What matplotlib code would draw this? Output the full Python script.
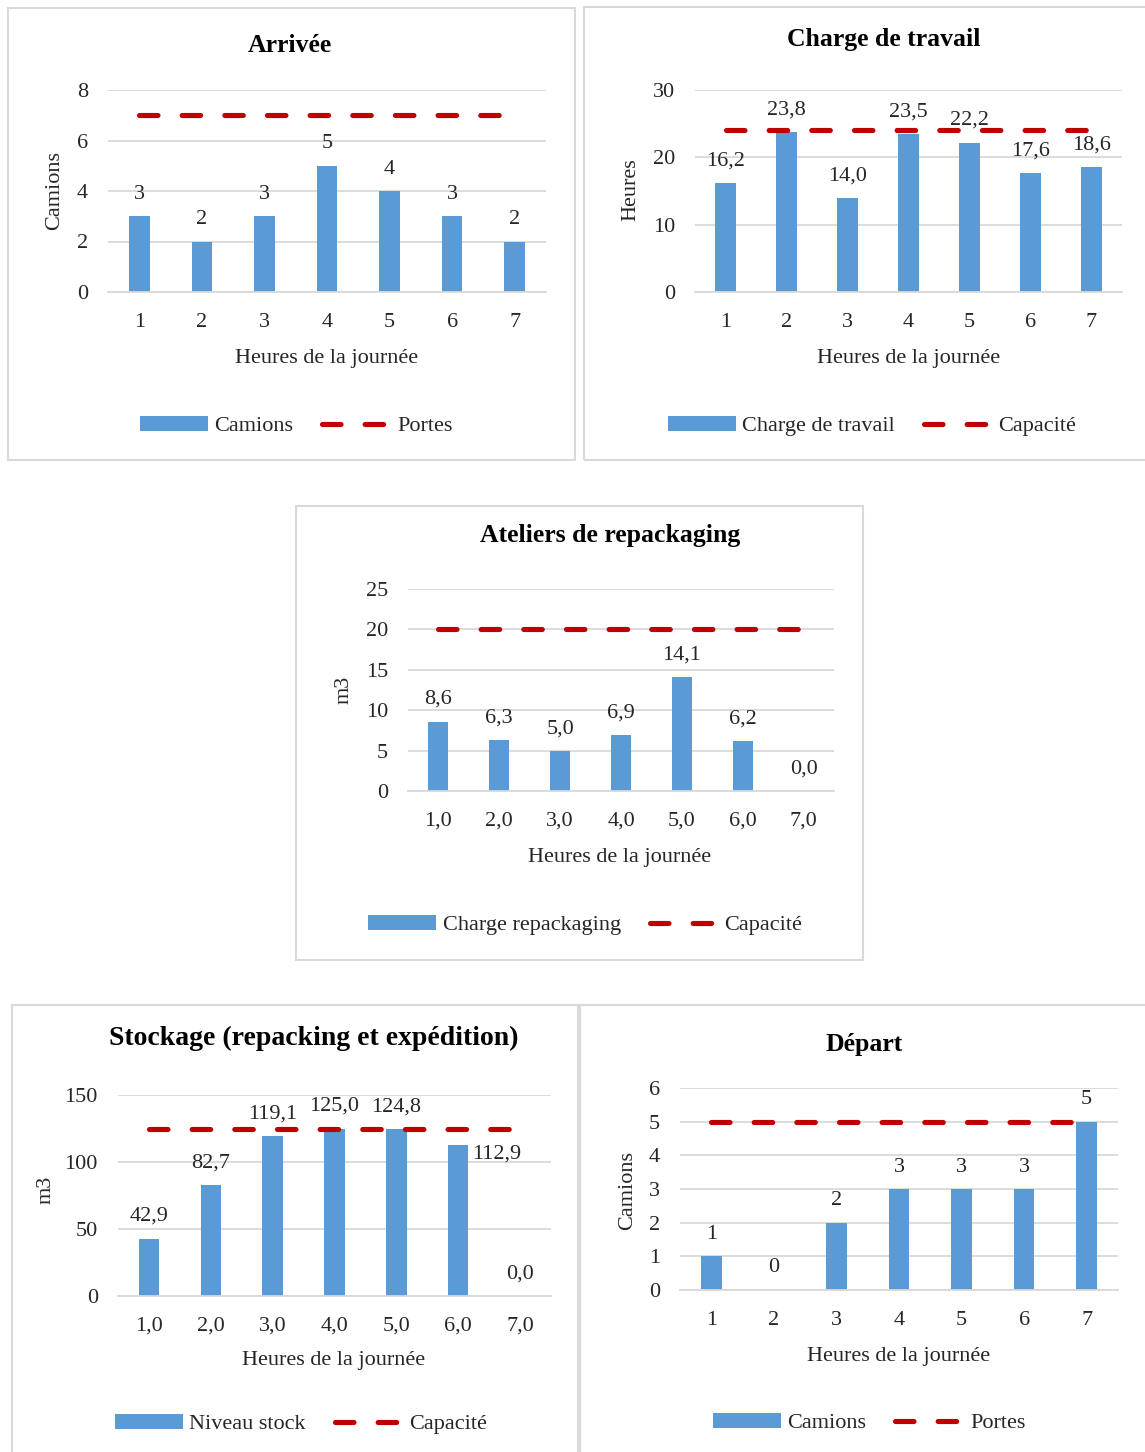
import matplotlib
matplotlib.use('Agg')
import matplotlib.pyplot as plt
from matplotlib.patches import Rectangle, Patch
from matplotlib.lines import Line2D

W, H = 1145, 1452

# data
hours = [1, 2, 3, 4, 5, 6, 7]

arrivee_camions = [3, 2, 3, 5, 4, 3, 2]
arrivee_portes = [7, 7, 7, 7, 7, 7, 7]

charge_travail = [16.2, 23.8, 14.0, 23.5, 22.2, 17.6, 18.6]
charge_capacite = [24, 24, 24, 24, 24, 24, 24]

repack_charge = [8.6, 6.3, 5.0, 6.9, 14.1, 6.2, 0.0]
repack_capacite = [20, 20, 20, 20, 20, 20, 20]

stock_niveau = [42.9, 82.7, 119.1, 125.0, 124.8, 112.9, 0.0]
stock_capacite = [125, 125, 125, 125, 125, 125, 125]

depart_camions = [1, 0, 2, 3, 3, 3, 5]
depart_portes = [5, 5, 5, 5, 5, 5, 5]

BLUE = '#5B9BD5'
RED = '#C00000'
GRID = '#D9D9D9'
TXT = '#262626'

plt.rcParams['font.family'] = ['Liberation Serif', 'DejaVu Serif']

fig = plt.figure(figsize=(W / 100, H / 100), dpi=100)


def fx(x):
    return x / W


def fy(y):
    # text centres sit a bit high with va='center', push them down slightly
    return 1 - y / H


def fmt(v, dec):
    if dec == 0:
        return '%d' % v
    return ('%.1f' % v).replace('.', ',')


def panel(box, area, ymax, ystep, bars, cap, title, title_xy, ylabel, ylabel_xy,
          xlabel_xy, legend_names, legend_xy, xdec, ldec, shifts=None, title_size=18.5):
    # frame of the chart
    bx0, by0, bx1, by1 = box
    fig.add_artist(Rectangle((fx(bx0), fy(by1)), (bx1 - bx0) / W, (by1 - by0) / H,
                             transform=fig.transFigure, fill=False,
                             edgecolor=GRID, lw=1.5))
    x0, y0, x1, y1 = area
    ax = fig.add_axes([fx(x0), fy(y1), (x1 - x0) / W, (y1 - y0) / H])
    ax.bar(hours, bars, width=0.33, color=BLUE, zorder=2)
    ax.plot(hours, cap, color=RED, lw=3.7, dashes=(3.6, 4.7),
            dash_capstyle='round', zorder=3)
    for i in range(len(hours)):
        dx, dy = 0, 22
        if shifts and i in shifts:
            dx, dy = shifts[i]
        ax.annotate(fmt(bars[i], ldec), (hours[i], bars[i]), xytext=(dx, dy),
                    textcoords='offset pixels', ha='center', va='center',
                    fontsize=16, color=TXT, zorder=4)
    ax.set_xlim(0.5, 7.5)
    ax.set_ylim(0, ymax)
    ax.set_yticks(range(0, ymax + 1, ystep))
    ax.set_xticks(hours)
    ax.set_xticklabels([fmt(h, xdec) for h in hours])
    ax.yaxis.grid(True, color=GRID, lw=1.3)
    ax.set_axisbelow(True)
    for s in ['top', 'left', 'right']:
        ax.spines[s].set_visible(False)
    ax.spines['bottom'].set_color(GRID)
    ax.spines['bottom'].set_linewidth(1.3)
    ax.tick_params(axis='y', length=0, labelsize=16, pad=14.5, colors=TXT)
    ax.tick_params(axis='x', length=0, labelsize=16, pad=15, colors=TXT)

    fig.text(fx(title_xy[0]), fy(title_xy[1] + 2.5), title, ha='center', va='center',
             fontsize=title_size, fontweight='bold', color='black')
    fig.text(fx(xlabel_xy[0]), fy(xlabel_xy[1] + 2.5), 'Heures de la journée',
             ha='center', va='center', fontsize=16, color=TXT)
    fig.text(fx(ylabel_xy[0]), fy(ylabel_xy[1]), ylabel, ha='center',
             va='center', rotation=90, fontsize=16, color=TXT)

    handles = [Patch(facecolor=BLUE),
               Line2D([], [], color=RED, lw=3.7, dashes=(3.6, 4.7),
                      dash_capstyle='round')]
    fig.legend(handles, legend_names, loc='center',
               bbox_to_anchor=(fx(legend_xy[0]), fy(legend_xy[1] + 3)), ncol=2,
               frameon=False, fontsize=16, handlelength=3.06, handleheight=0.65,
               handletextpad=0.3, columnspacing=1.3, labelcolor=TXT)
    return ax


panel((8, 8, 575, 460), (108, 90, 546, 292), 8, 2, arrivee_camions, arrivee_portes,
      'Arrivée', (290, 43), 'Camions', (55, 191), (327, 356),
      ['Camions', 'Portes'], (296, 423), 0, 0)

panel((584, 7, 1152, 460), (695, 90, 1122, 292), 30, 10, charge_travail, charge_capacite,
      'Charge de travail', (884, 37), 'Heures', (631, 190), (909, 356),
      ['Charge de travail', 'Capacité'], (872, 423), 0, 1)

panel((296, 506, 863, 960), (408, 589, 834, 791), 25, 5, repack_charge, repack_capacite,
      'Ateliers de repackaging', (610, 533), 'm3', (344, 690), (620, 855),
      ['Charge repackaging', 'Capacité'], (585, 922), 1, 1)

panel((12, 1005, 578, 1462), (118, 1095, 551, 1296), 150, 50, stock_niveau, stock_capacite,
      'Stockage (repacking et expédition)', (314, 1036), 'm3', (46, 1190), (334, 1358),
      ['Niveau stock', 'Capacité'], (301, 1421), 1, 1, shifts={5: (38, -9)},
      title_size=20)

panel((580, 1005, 1152, 1462), (680, 1088, 1118, 1290), 6, 1, depart_camions, depart_portes,
      'Départ', (864, 1042), 'Camions', (628, 1190), (899, 1354),
      ['Camions', 'Portes'], (869, 1420), 0, 0)

fig.savefig('out.png', dpi=100, facecolor='white')
